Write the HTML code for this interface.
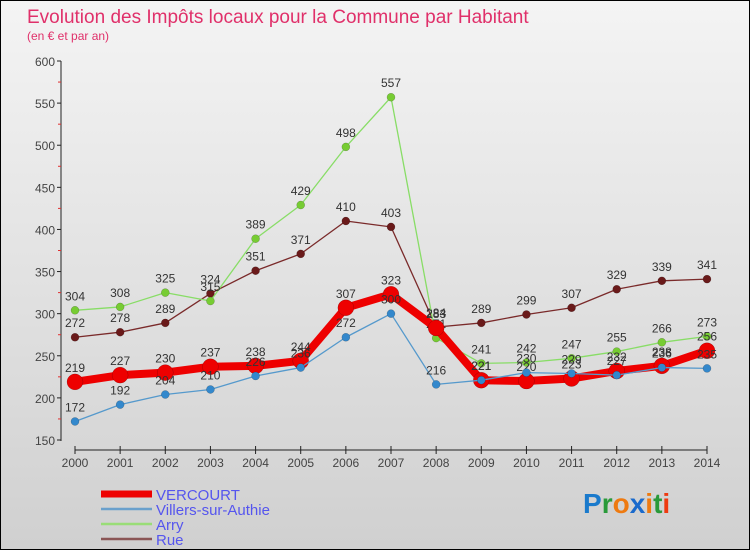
<!DOCTYPE html>
<html><head><meta charset="utf-8"><style>
body{margin:0;width:750px;height:550px;overflow:hidden;font-family:"Liberation Sans",sans-serif}
#wrap{position:relative;width:748px;height:548px;border:1px solid #000;background:linear-gradient(#f4f4f4,#d0d0d0)}
</style></head><body>
<div id="wrap">
<svg id="chart" width="748" height="548" style="position:absolute;left:0;top:0"></svg>
</div>
<script>
const years=["2000","2001","2002","2003","2004","2005","2006","2007","2008","2009","2010","2011","2012","2013","2014"];
const vercourt=[219,227,230,237,238,244,307,323,283,221,220,223,232,238,256];
const villers=[172,192,204,210,226,236,272,300,216,221,230,229,227,236,235];
const arry=[304,308,325,315,389,429,498,557,271,241,242,247,255,266,273];
const rue=[272,278,289,324,351,371,410,403,284,289,299,307,329,339,341];
const yTicks=[150,200,250,300,350,400,450,500,550,600];
const NS="http://www.w3.org/2000/svg";
const svg=document.getElementById('chart');
function x(i){return 74+i*(632/14);}
function y(v){return 439-(v-150)*(379/450);}
function el(t,a,p){const e=document.createElementNS(NS,t);for(const k in a)e.setAttribute(k,a[k]);(p||svg).appendChild(e);return e;}
let t=el('text',{x:26,y:22,'font-size':19,fill:'#e0306a'});t.textContent="Evolution des Impôts locaux pour la Commune par Habitant";


t=el('text',{x:26,y:39,'font-size':12,fill:'#e0306a'});t.textContent="(en € et par an)";


// axes
let a=el('line',{x1:60,y1:60,x2:60,y2:440,stroke:'#222'});


a=el('line',{x1:74,y1:449,x2:706,y2:449,stroke:'#222'});


yTicks.forEach(v=>{
 el('line',{x1:56,y1:y(v),x2:60,y2:y(v),stroke:'#222'});
 if(v<600)el('line',{x1:57,y1:y(v+25),x2:60,y2:y(v+25),stroke:'#e03030'});
 const tt=el('text',{x:54,y:y(v)+5,'font-size':12,fill:'#444','text-anchor':'end'});tt.textContent=v;
 
 
});
years.forEach((yr,i)=>{
 el('line',{x1:x(i),y1:445,x2:x(i),y2:453,stroke:'#222'});
 const tt=el('text',{x:x(i),y:466,'font-size':12,fill:'#444','text-anchor':'middle'});tt.textContent=yr;
 
 
});
function series(data,color,w,r,name,ptColor){
 const pts=data.map((v,i)=>x(i)+','+y(v)).join(' ');
 const pl=el('polyline',{points:pts,fill:'none',stroke:color,'stroke-width':w,'stroke-linejoin':'round'});
 
 
 data.forEach((v,i)=>{
  const c=el('circle',{cx:x(i),cy:y(v),r:r,fill:ptColor,stroke:'rgba(0,0,0,0.3)','stroke-width':0.5});
  
  
  const tt=el('text',{x:x(i),y:y(v)-10,'font-size':12,fill:'#333','text-anchor':'middle'});tt.textContent=v;
  
  
 });
}
series(rue,'#7a2a2a',1.3,4,'rue','#6a1a1a');
series(arry,'#88dd66',1.3,4,'arry','#77cc33');
series(vercourt,'#ee0000',8,8,'vercourt','#ee0000');
series(villers,'#5599cc',1.3,4,'villers','#3388cc');
// legend
const leg=[["VERCOURT","#ee0000",7],["Villers-sur-Authie","#6aa0cc",2.5],["Arry","#99dd77",2.5],["Rue","#8a5555",2.5]];
leg.forEach((l,i)=>{
 const yy=493+i*15;
 const ln=el('line',{x1:100,y1:yy,x2:151,y2:yy,stroke:l[1],'stroke-width':l[2]});
 
 
 const tt=el('text',{x:155,y:yy+6,'font-size':15,fill:'#5555ee'});tt.textContent=l[0];
 
 
});
// logo
const g=el('text',{x:582,y:512,'font-size':28,'font-weight':'bold'});


[["P","#1a7acc"],["r","#2a9a3a"],["o","#ee7a10"],["x","#1a6acc"],["i","#ee7a10"],["t","#2a9a3a"],["i","#ee3a10"]].forEach(c=>{const s=el('tspan',{fill:c[1]},g);s.textContent=c[0];});
</script>
</body></html>
